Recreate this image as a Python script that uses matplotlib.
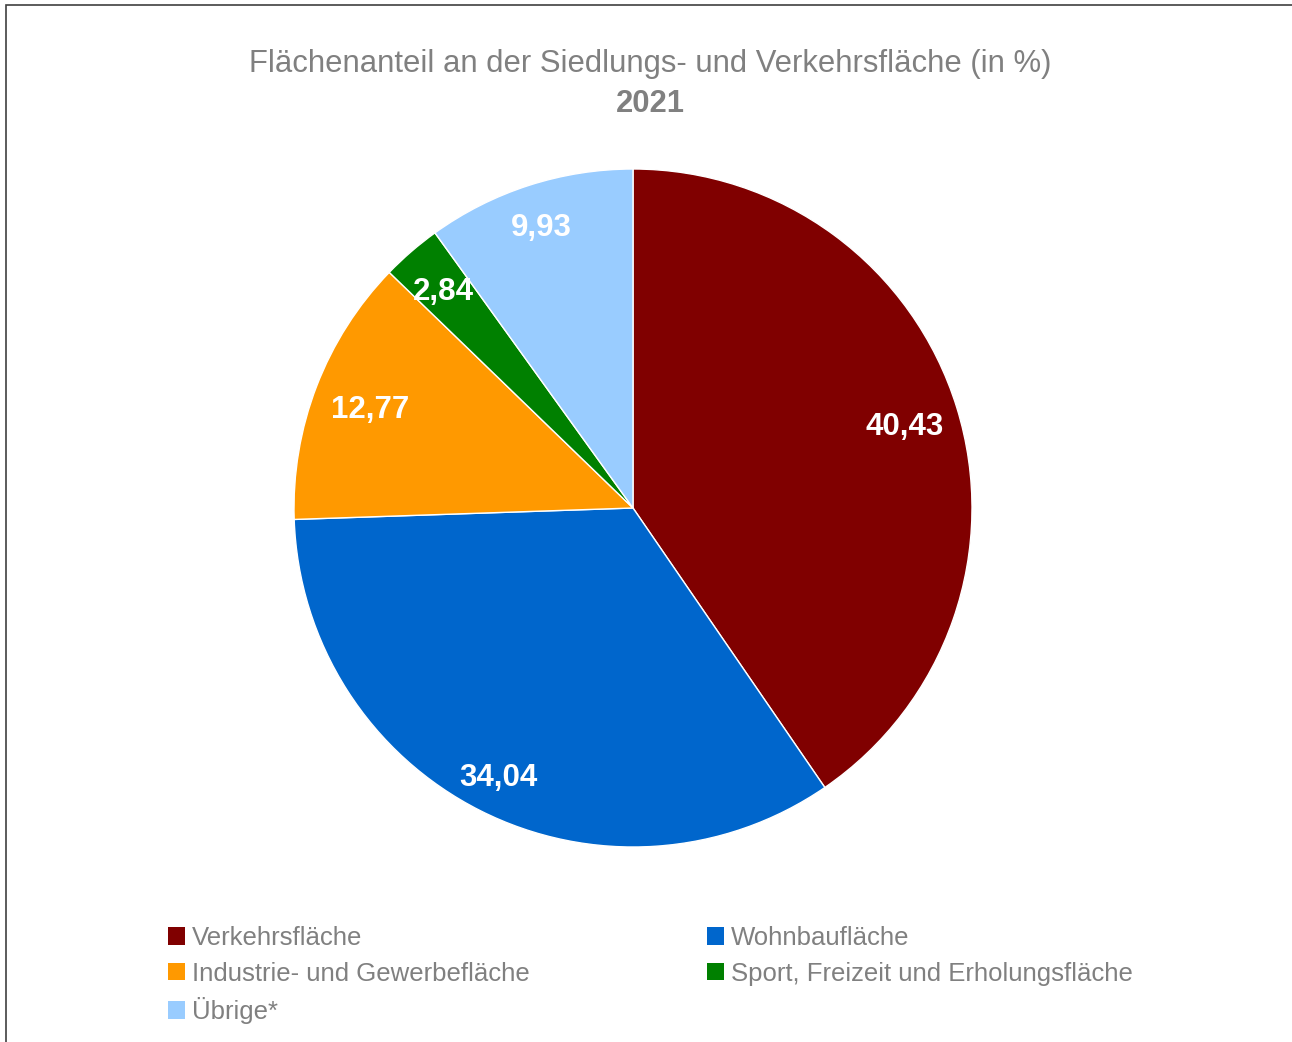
import matplotlib
matplotlib.use("Agg")
import numpy as np
import matplotlib.pyplot as plt
from matplotlib.patches import Patch, Rectangle

plt.rcParams['font.family'] = ['Liberation Sans', 'DejaVu Sans']

categories = ["Verkehrsfläche", "Wohnbaufläche", "Industrie- und Gewerbefläche",
              "Sport, Freizeit und Erholungsfläche", "Übrige*"]
values = [40.43, 34.04, 12.77, 2.84, 9.93]
colors = ["#800000", "#0066CC", "#FF9900", "#008000", "#99CCFF"]
title_line1 = "Flächenanteil an der Siedlungs- und Verkehrsfläche (in %)"
title_line2 = "2021"
label_dist = [0.84, 0.88, 0.83, 0.855, 0.88]

W, H = 1292, 1042
fig = plt.figure(figsize=(W / 100, H / 100), dpi=100)

# outer border
fig.patches.append(Rectangle((6 / W, -0.01), 1.02, 1 - 5 / H + 0.01, transform=fig.transFigure,
                             fill=False, edgecolor="#404040", linewidth=1.2))

cx, cy, r = 633, 508, 339
ax = fig.add_axes([(cx - r) / W, (H - cy - r) / H, 2 * r / W, 2 * r / H])
wedges, texts = ax.pie(
    values, colors=colors, startangle=90, counterclock=False, radius=1,
    wedgeprops=dict(edgecolor="white", linewidth=1.0))
for w, v, d in zip(wedges, values, label_dist):
    ang = np.deg2rad((w.theta1 + w.theta2) / 2)
    ax.text(d * np.cos(ang), d * np.sin(ang), f"{v:.2f}".replace(".", ","),
            ha="center", va="center_baseline", color="white", fontweight="bold", fontsize=22.5)
ax.set_xlim(-1, 1)
ax.set_ylim(-1, 1)
ax.set_aspect("equal")
ax.axis("off")

fig.text(650 / W, 1 - 64 / H, title_line1, ha="center", va="center", fontsize=22.3, color="#808080")
fig.text(650 / W, 1 - 104 / H, title_line2, ha="center", va="center", fontsize=22.3,
         color="#808080", fontweight="bold")

order = [0, 2, 4, 1, 3]
handles = [Patch(facecolor=colors[i], edgecolor="none") for i in order]
labels = [categories[i] for i in order]
fig.legend(handles, labels, ncol=2, loc="upper left",
           bbox_to_anchor=(168 / W, 1 - 926 / H), frameon=False,
           fontsize=18.5, labelcolor="#808080", handlelength=0.68, handleheight=0.68,
           handletextpad=0.25, labelspacing=0.45, columnspacing=6.9, borderaxespad=0,
           borderpad=0)

fig.savefig("out.png", dpi=100)
